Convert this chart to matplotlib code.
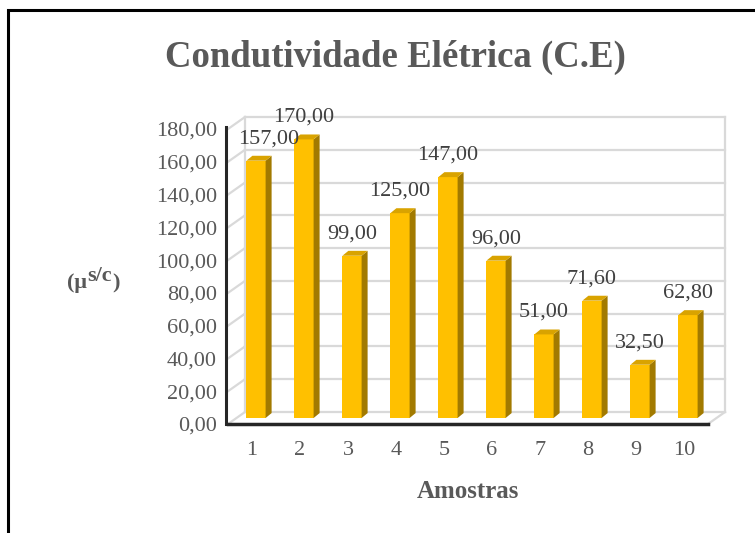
import numpy as np
import matplotlib.pyplot as plt
from matplotlib.patches import Polygon, Rectangle
from matplotlib.transforms import ScaledTranslation

# Data
amostras = [1, 2, 3, 4, 5, 6, 7, 8, 9, 10]
ce_values = [157.00, 170.00, 99.00, 125.00, 147.00, 96.00, 51.00, 71.60, 32.50, 62.80]
y_ticks = [0, 20, 40, 60, 80, 100, 120, 140, 160, 180]

SERIF = 'Liberation Serif'
GRAY = '#595959'
DPI = 100

fig = plt.figure(figsize=(7.55, 5.33), dpi=DPI)
ax = fig.add_axes([228 / 755, 1 - 424 / 533, 480 / 755, 295 / 533])
ax.set_xlim(0.5, 10.5)
ax.set_ylim(0, 180)
for s in ax.spines.values():
    s.set_visible(False)

# depth offsets (pixels) for back wall and for bars at mid depth
wall_off = ax.transData + ScaledTranslation(17 / DPI, 12 / DPI, fig.dpi_scale_trans)
bar_off = ax.transData + ScaledTranslation(4 / DPI, 6 / DPI, fig.dpi_scale_trans)
grid_c = '#D9D9D9'

# back wall gridlines
for v in y_ticks:
    ax.plot([0.5, 10.5], [v, v], color=grid_c, lw=1.6, transform=wall_off, clip_on=False, zorder=1)
    # side wall diagonals
    p0 = ax.transData.transform((0.5, v))
    p1 = wall_off.transform((0.5, v))
    ax.plot([p0[0], p1[0]], [p0[1], p1[1]], color=grid_c, lw=1.6,
            transform=None, clip_on=False, zorder=1)
for xe in (0.5, 10.5):
    ax.plot([xe, xe], [0, 180], color=grid_c, lw=1.6, transform=wall_off, clip_on=False, zorder=1)
# floor right edge
p0 = ax.transData.transform((10.5, 0))
p1 = wall_off.transform((10.5, 0))
ax.plot([p0[0], p1[0]], [p0[1], p1[1]], color=grid_c, lw=1.6, transform=None, clip_on=False, zorder=1)

# bars
w = 0.40
sd, sh = 0.125, 3.0
front_c, side_c, top_c = '#FFC000', '#A27A00', '#D9A300'
ax.bar(amostras, ce_values, width=w, color=front_c, transform=bar_off, zorder=3, clip_on=False)
for x, v in zip(amostras, ce_values):
    side = Polygon([(x + w / 2, 0), (x + w / 2 + sd, sh), (x + w / 2 + sd, v + sh), (x + w / 2, v)],
                   closed=True, facecolor=side_c, edgecolor='none', transform=bar_off, zorder=3, clip_on=False)
    top = Polygon([(x - w / 2, v), (x + w / 2, v), (x + w / 2 + sd, v + sh), (x - w / 2 + sd, v + sh)],
                  closed=True, facecolor=top_c, edgecolor='none', transform=bar_off, zorder=3, clip_on=False)
    ax.add_patch(side)
    ax.add_patch(top)

# data labels
label_nudge = [9, 0, 0, 0, 0, 0, 0, 0, 0, 0]
for x, v, nd in zip(amostras, ce_values, label_nudge):
    ax.annotate(f"{v:.2f}".replace('.', ','), (x, v), xycoords=bar_off,
                xytext=(nd, 9), textcoords='offset points', ha='center', va='bottom',
                fontsize=16, family=SERIF, color='#404040', zorder=5, annotation_clip=False)

# front axes lines
ax.plot([0.5, 10.5], [0, 0], color='#262626', lw=2.5, clip_on=False, zorder=4)
ax.plot([0.45, 0.45], [0, 181], color='#262626', lw=2.2, clip_on=False, zorder=4)

# ticks
ax.set_yticks(y_ticks)
ax.set_yticklabels([f"{t:.2f}".replace('.', ',') for t in y_ticks])
ax.set_xticks(amostras)
ax.set_xticklabels([str(a) for a in amostras])
ax.tick_params(axis='y', length=0, pad=8, labelsize=16, labelcolor=GRAY)
ax.tick_params(axis='x', length=0, pad=12, labelsize=16, labelcolor=GRAY)
for lab in ax.get_xticklabels() + ax.get_yticklabels():
    lab.set_family(SERIF)

# titles
fig.text(395 / 755, 1 - 57 / 533, 'Condutividade Elétrica (C.E)', ha='center', va='center',
         fontsize=26.5, fontweight='bold', family=SERIF, color=GRAY)
fig.text(468 / 755, 1 - 492 / 533, 'Amostras', ha='center', va='center',
         fontsize=18, fontweight='bold', family=SERIF, color=GRAY)
fig.text(87 / 755, 1 - 283 / 533, '(\u03bc', ha='right', va='center',
         fontsize=16, fontweight='bold', family=SERIF, color=GRAY)
fig.text(87 / 755, 1 - 276 / 533, 's/c', ha='left', va='center',
         fontsize=16, fontweight='bold', family=SERIF, color=GRAY)
fig.text(112 / 755, 1 - 283 / 533, ')', ha='left', va='center',
         fontsize=16, fontweight='bold', family=SERIF, color=GRAY)

# outer frame (cropped at right/bottom)
fig.patches.append(Rectangle((8 / 755, -0.1), 1.2, 1 - 10 / 533 + 0.1, transform=fig.transFigure,
                             fill=False, edgecolor='black', lw=2.2))

fig.savefig('out.png', dpi=DPI)
